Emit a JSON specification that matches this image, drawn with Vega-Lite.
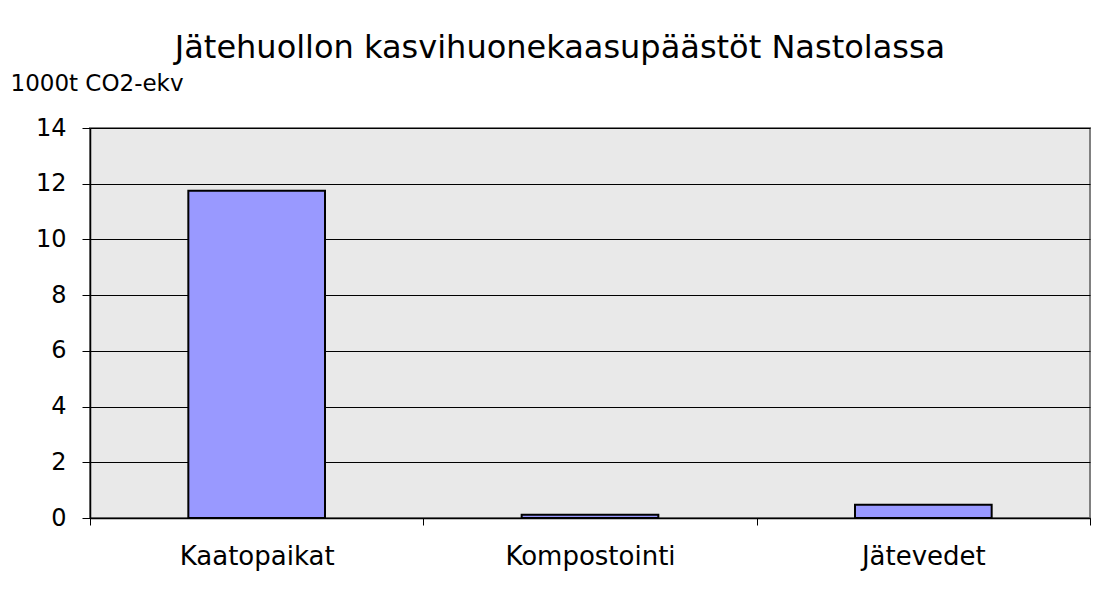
{
  "$schema": "https://vega.github.io/schema/vega-lite/v6.json",
  "autosize": "none",
  "width": 1000,
  "height": 390,
  "padding": {"left": 90, "top": 128, "right": 15, "bottom": 75},
  "background": "white",
  "title": {
    "text": "Jätehuollon kasvihuonekaasupäästöt Nastolassa",
    "font": "DejaVu Sans",
    "fontSize": 32,
    "fontWeight": "normal",
    "color": "black",
    "anchor": "middle",
    "frame": "group",
    "baseline": "alphabetic",
    "offset": -18,
    "dx": -30
  },
  "data": {
    "values": [
      {"kategoria": "Kaatopaikat", "arvo": 11.75},
      {"kategoria": "Kompostointi", "arvo": 0.12},
      {"kategoria": "Jätevedet", "arvo": 0.48}
    ]
  },
  "mark": {"type": "bar", "fill": "#9999FF", "stroke": "black", "strokeWidth": 2, "width": {"band": 0.41}},
  "encoding": {
    "x": {
      "field": "kategoria",
      "type": "nominal",
      "sort": null,
      "scale": {"paddingInner": 0, "paddingOuter": 0},
      "axis": {
        "title": null,
        "labelAngle": 0,
        "labelFont": "DejaVu Sans",
        "labelFontSize": 26,
        "labelColor": "black",
        "labelBaseline": "alphabetic",
        "labelPadding": 39,
        "tickBand": "extent",
        "tickSize": 7,
        "tickColor": "black",
        "domainColor": "black",
        "domainWidth": 1.5
      }
    },
    "y": {
      "field": "arvo",
      "type": "quantitative",
      "scale": {"domain": [0, 14], "nice": false},
      "axis": {
        "values": [0, 2, 4, 6, 8, 10, 12, 14],
        "title": "1000t CO2-ekv",
        "titleAngle": 0,
        "titleAlign": "left",
        "titleBaseline": "alphabetic",
        "titleX": -80,
        "titleY": -38,
        "titleFont": "DejaVu Sans",
        "titleFontSize": 23,
        "titleFontWeight": "normal",
        "titleColor": "black",
        "labelFont": "DejaVu Sans",
        "labelFontSize": 24,
        "labelColor": "black",
        "labelPadding": 16,
        "tickSize": 8,
        "tickColor": "black",
        "domainColor": "black",
        "domainWidth": 1.5,
        "grid": true,
        "gridColor": "black",
        "gridWidth": 1
      }
    }
  },
  "config": {
    "view": {"fill": "#E9E9E9", "stroke": "#808080", "strokeWidth": 2}
  }
}
